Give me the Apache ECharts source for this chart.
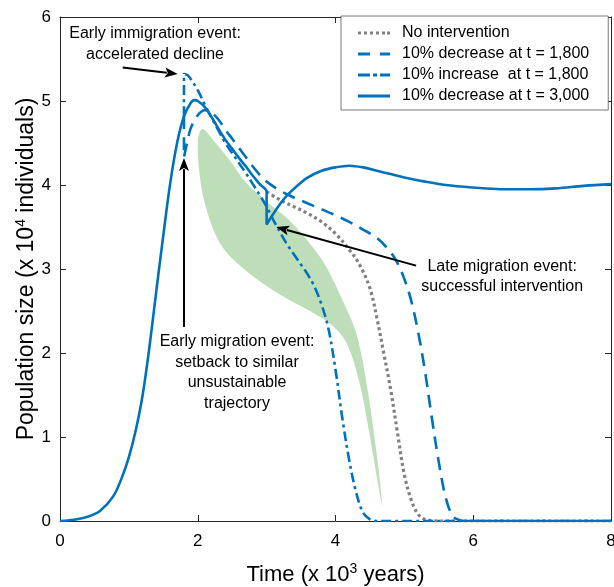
<!DOCTYPE html>
<html><head><meta charset="utf-8">
<script src="https://cdn.jsdelivr.net/npm/echarts@6/dist/echarts.min.js"></script>
<style>html,body{margin:0;padding:0;background:#fff}#c{width:614px;height:587px}</style>
</head><body><div id="c"></div>
<script>
// ---- data (time in 10^3 years, population in 10^4 individuals) ----
const xTicks = [0, 2, 4, 6, 8];
const yTicks = [0, 1, 2, 3, 4, 5, 6];
const seriesNames = ['No intervention', '10% decrease at t = 1,800', '10% increase  at t = 1,800', '10% decrease at t = 3,000'];

const baseline = [[0,0],[0.2,0.015],[0.4,0.05],[0.58,0.12],[0.77,0.29],[0.9,0.52],[1.0,0.76],[1.1,1.08],[1.2,1.5],[1.3,2.08],[1.4,2.75],[1.5,3.4],[1.6,4.02],[1.7,4.5],[1.8,4.82],[1.9,4.98],[1.95,5.01],[2.0,5.0],[2.1,4.93],[2.2,4.81],[2.3,4.67],[2.4,4.54],[2.5,4.43],[2.6,4.32],[2.7,4.22],[2.8,4.11],[2.9,4.01],[3.0,3.92]];
const decrease3000After = [[3.0,3.53],[3.1,3.66],[3.2,3.78],[3.3,3.88],[3.43,3.98],[3.6,4.09],[3.8,4.17],[4.0,4.21],[4.2,4.23],[4.4,4.21],[4.6,4.17],[4.8,4.13],[5.0,4.09],[5.3,4.04],[5.6,4.0],[6.0,3.97],[6.4,3.95],[6.8,3.95],[7.2,3.96],[7.6,3.99],[8.0,4.01]];
const noIntervention = [[3.0,3.92],[3.2,3.82],[3.4,3.74],[3.6,3.66],[3.8,3.56],[4.0,3.42],[4.2,3.23],[4.35,3.05],[4.5,2.77],[4.6,2.42],[4.7,2.0],[4.8,1.57],[4.9,1.05],[5.0,0.55],[5.1,0.25],[5.2,0.08],[5.3,0.02],[5.5,0],[8,0]];
const increase1800 = [[1.8,4.82],[1.8,5.32],[1.85,5.31],[1.9,5.26],[2.0,5.13],[2.1,4.96],[2.2,4.8],[2.3,4.65],[2.4,4.5],[2.5,4.38],[2.6,4.26],[2.7,4.14],[2.8,4.01],[2.9,3.88],[3.0,3.74],[3.1,3.58],[3.2,3.43],[3.3,3.29],[3.4,3.17],[3.5,3.05],[3.6,2.93],[3.7,2.78],[3.8,2.57],[3.9,2.28],[4.0,1.8],[4.1,1.22],[4.2,0.72],[4.3,0.34],[4.4,0.1],[4.5,0.02],[4.6,0],[8,0]];
const decrease1800 = [[1.8,4.82],[1.8,4.33],[1.85,4.52],[1.9,4.68],[2.0,4.83],[2.1,4.89],[2.2,4.86],[2.3,4.78],[2.4,4.66],[2.5,4.55],[2.6,4.44],[2.7,4.33],[2.8,4.22],[2.9,4.12],[3.0,4.04],[3.2,3.93],[3.4,3.85],[3.6,3.78],[3.8,3.71],[4.0,3.64],[4.2,3.56],[4.4,3.47],[4.6,3.37],[4.8,3.2],[4.9,3.07],[5.0,2.88],[5.1,2.62],[5.2,2.25],[5.3,1.78],[5.4,1.22],[5.5,0.7],[5.6,0.28],[5.7,0.06],[5.8,0.01],[5.9,0],[8,0]];
const greenUpper = [[2.0,4.5],[2.03,4.63],[2.07,4.67],[2.12,4.64],[2.22,4.54],[2.46,4.30],[2.71,4.02],[3.09,3.74],[3.33,3.58],[3.67,3.26],[3.87,3.02],[4.10,2.63],[4.30,2.24],[4.45,1.64],[4.59,0.85],[4.68,0.19]];
const greenLower = [[4.64,0.33],[4.49,1.05],[4.35,1.64],[4.16,2.12],[3.95,2.33],[3.67,2.48],[3.33,2.63],[2.94,2.83],[2.57,3.07],[2.32,3.31],[2.13,3.70],[2.03,4.10]];

// annotations (data coordinates)
const arrows = [
  {from:[0.91,5.40], to:[1.71,5.32]},
  {from:[1.80,2.31], to:[1.80,4.32]},
  {from:[5.17,3.04], to:[3.14,3.50]}
];
const notes = [
  {lines:['Early immigration event:','accelerated decline'], at:[1.38,5.675], lh:21},
  {lines:['Early migration event:','setback to similar','unsustainable','trajectory'], at:[2.57,1.765], lh:20.5},
  {lines:['Late migration event:','successful intervention'], at:[6.42,2.905], lh:20}
];

const BLUE = '#0072BD', GRAY = '#808080', GREEN = 'rgb(190,222,185)', AX = '#262626';
const FONT = '"Liberation Sans", Arial, sans-serif';
const fullDecrease3000 = baseline.concat(decrease3000After);

// legend sample glyphs (line-style swatches)
const iconDotted = 'path://M0,0h3v1h-3zM6,0h3v1h-3zM12,0h3v1h-3zM18,0h3v1h-3zM24,0h3v1h-3zM29,0h3v1h-3z';
const iconDashed = 'path://M0,0h12v1h-12zM22,0h10v1h-10z';
const iconDashDot = 'path://M0,0h12v1h-12zM15,0h4v1h-4zM22,0h10v1h-10z';
const iconSolid = 'path://M0,0h32v1h-32z';

const chart = echarts.init(document.getElementById('c'), null, {renderer:'canvas'});
const axisCommon = {
  type:'value', axisLine:{show:true, onZero:false, lineStyle:{color:AX, width:1}},
  axisTick:{show:true, inside:true, length:6, lineStyle:{color:AX, width:1}},
  splitLine:{show:false}
};
const richX = {n:{fontSize:22, color:'#000', fontFamily:FONT}, s:{fontSize:14, color:'#000', verticalAlign:'top', padding:[0,0,11,0], fontFamily:FONT}};
const richY = {n:{fontSize:23, color:'#000', fontFamily:FONT}, s:{fontSize:14, color:'#000', verticalAlign:'top', padding:[0,0,11,0], fontFamily:FONT}};
chart.setOption({
  animation:false,
  backgroundColor:'#fff',
  textStyle:{fontFamily:FONT},
  grid:{left:60, right:3, top:17, bottom:66, containLabel:false, outerBoundsMode:'none'},
  xAxis:[
    Object.assign({}, axisCommon, {min:0, max:8, interval:2, position:'bottom',
      axisLabel:{color:'#000', fontSize:17, margin:12, fontFamily:FONT},
      name:'{n|Time (x 10}{s|3}{n| years)}', nameLocation:'middle', nameGap:41, nameMoveOverlap:false,
      nameTextStyle:{rich:richX}}),
    Object.assign({}, axisCommon, {min:0, max:8, interval:2, position:'top', axisLabel:{show:false}})
  ],
  yAxis:[
    Object.assign({}, axisCommon, {min:0, max:6, interval:1, position:'left',
      axisLabel:{color:'#000', fontSize:17, margin:9, fontFamily:FONT},
      name:'{n|Population size (x 10}{s|4}{n| individuals)}', nameLocation:'middle', nameGap:21, nameMoveOverlap:false,
      nameTextStyle:{rich:richY}}),
    Object.assign({}, axisCommon, {min:0, max:6, interval:1, position:'right', axisLabel:{show:false}})
  ],
  legend:{
    orient:'vertical', left:341, top:16, padding:[9,19,6,17],
    itemWidth:32, itemHeight:3, itemGap:5, symbolKeepAspect:false,
    backgroundColor:'#fff', borderColor:'#555', borderWidth:0.8,
    textStyle:{fontSize:16, color:'#000', fontFamily:FONT, padding:[0,0,0,7], lineHeight:16},
    data:[
      {name:seriesNames[0], icon:iconDotted},
      {name:seriesNames[1], icon:iconDashed},
      {name:seriesNames[2], icon:iconDashDot},
      {name:seriesNames[3], icon:iconSolid}
    ]
  },
  series:[
    {type:'custom', name:'band', silent:true, z:1, data:greenUpper,
      renderItem:function(params, api){
        if (params.dataIndex !== 0) return;
        const pts = greenUpper.concat(greenLower).map(p => api.coord(p));
        return {type:'polygon', shape:{points:pts, smooth:0.35}, style:{fill:GREEN}};
      }},
    {type:'line', name:seriesNames[0], data:noIntervention, showSymbol:false, symbol:'none', z:3, smooth:0.35,
      lineStyle:{color:GRAY, width:3.2, type:[3,3], cap:'butt'}, itemStyle:{color:GRAY}},
    {type:'line', name:seriesNames[1], data:decrease1800, showSymbol:false, symbol:'none', z:4, smooth:0.35,
      lineStyle:{color:BLUE, width:2.6, type:[13,8]}, itemStyle:{color:BLUE}},
    {type:'line', name:seriesNames[2], data:increase1800, showSymbol:false, symbol:'none', z:4, smooth:0.35,
      lineStyle:{color:BLUE, width:2.6, type:[10,4,3,4]}, itemStyle:{color:BLUE}},
    {type:'line', name:seriesNames[3], data:fullDecrease3000, showSymbol:false, symbol:'none', z:5, smooth:0.35,
      lineStyle:{color:BLUE, width:2.6}, itemStyle:{color:BLUE}}
  ]
});

// annotations placed through the chart's own coordinate conversion
const g = [];
arrows.forEach(a => {
  const p1 = chart.convertToPixel({gridIndex:0}, a.from);
  const p2 = chart.convertToPixel({gridIndex:0}, a.to);
  const dx = p2[0]-p1[0], dy = p2[1]-p1[1], L = Math.hypot(dx, dy);
  const ux = dx/L, uy = dy/L, hl = 13, hw = 5;
  const bx = p2[0]-ux*hl, by = p2[1]-uy*hl;
  g.push({type:'line', z:50, shape:{x1:p1[0], y1:p1[1], x2:bx+ux*2, y2:by+uy*2}, style:{stroke:'#000', lineWidth:2}});
  g.push({type:'polygon', z:50, shape:{points:[[p2[0],p2[1]],[bx-uy*hw, by+ux*hw],[bx+ux*3, by+uy*3],[bx+uy*hw, by-ux*hw]]}, style:{fill:'#000'}});
});
notes.forEach(n => {
  const c = chart.convertToPixel({gridIndex:0}, n.at);
  const k = n.lines.length;
  n.lines.forEach((t, i) => {
    g.push({type:'text', z:50, x:c[0], y:c[1] + (i-(k-1)/2)*n.lh,
      style:{text:t, font:'16px ' + FONT, fill:'#000', textAlign:'center', textVerticalAlign:'middle'}});
  });
});
chart.setOption({graphic:g});
</script></body></html>
